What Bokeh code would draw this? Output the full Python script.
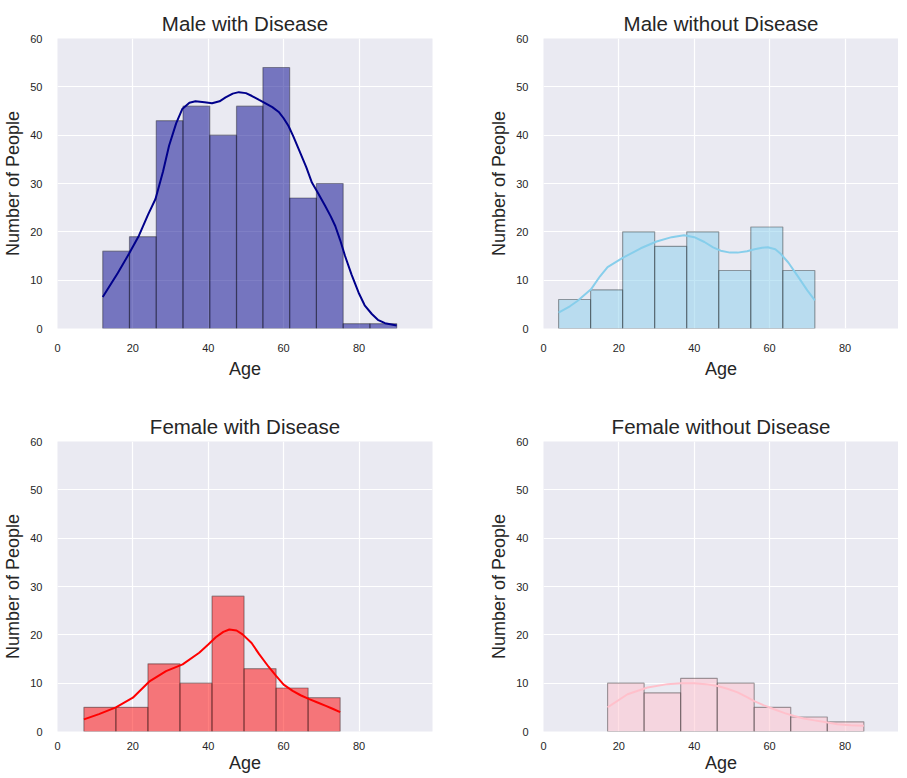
from bokeh.plotting import figure
from bokeh.layouts import column, row
from bokeh.models import Range1d, FixedTicker, Spacer
from bokeh.embed import file_html
from bokeh.resources import INLINE

# ---------------- data ----------------
md_title = "Male with Disease"
md_edges = [12.0, 19.1, 26.2, 33.3, 40.4, 47.5, 54.5, 61.6, 68.7, 75.8, 82.9, 90.0]
md_counts = [16, 19, 43, 46, 40, 46, 54, 27, 30, 1, 1]
md_kde_x = [12, 16, 19, 21.6, 24, 26, 28, 29.6, 31.5, 33.1, 35, 36.6, 39, 41, 43, 44.6, 46.5,
            48.1, 50, 51.6, 53.5, 55.2, 57, 58.7, 60, 61.3, 62.6, 64, 66, 67.5, 69, 71, 72.5,
            73.7, 75, 76.3, 78, 79.9, 81.5, 83.4, 85, 86.9, 90]
md_kde_y = [6.5, 11.5, 15.5, 19.2, 23.5, 26.8, 32.5, 37.8, 42.5, 45.4, 46.7, 47.0, 46.8, 46.6,
            47.0, 47.8, 48.6, 48.9, 48.7, 48.1, 47.3, 46.6, 45.8, 44.8, 43.5, 41.9, 39.7, 37.1,
            33.4, 30.2, 28.2, 25.4, 23.2, 21.2, 18.3, 15.0, 11.2, 7.4, 4.8, 3.0, 1.8, 1.1, 0.6]

mn_title = "Male without Disease"
mn_edges = [4.0, 12.5, 21.0, 29.5, 38.0, 46.5, 55.0, 63.5, 72.0]
mn_counts = [6, 8, 20, 17, 20, 12, 21, 12]
mn_kde_x = [4, 7, 9, 12.6, 15, 17, 21, 25.8, 30, 34, 37.3, 40, 42.7, 45, 47, 49.5, 51.5, 54,
            56, 58, 59.5, 61.5, 63, 65, 67.4, 70, 72]
mn_kde_y = [3.3, 4.6, 5.7, 8.1, 10.8, 12.7, 14.6, 16.6, 18.0, 18.9, 19.3, 18.9, 17.9, 16.8,
            16.1, 15.7, 15.7, 16.0, 16.4, 16.7, 16.8, 16.4, 15.4, 13.6, 10.9, 7.9, 5.8]

fd_title = "Female with Disease"
fd_edges = [7.0, 15.5, 24.0, 32.5, 41.0, 49.5, 58.0, 66.5, 75.0]
fd_counts = [5, 5, 14, 10, 28, 13, 9, 7]
fd_kde_x = [7, 11, 15.5, 20, 24.3, 28.8, 33.2, 37.6, 40, 42, 44, 45.6, 47.5, 49.1, 51.5, 53.5,
            56, 58, 60, 62.4, 64.5, 66.8, 69, 71.2, 73, 75]
fd_kde_y = [2.5, 3.6, 5.0, 7.0, 10.3, 12.5, 13.9, 16.3, 18.0, 19.5, 20.6, 21.1, 20.9, 20.1,
            18.3, 16.0, 13.4, 11.5, 9.7, 8.4, 7.5, 6.7, 6.0, 5.3, 4.7, 4.0]

fn_title = "Female without Disease"
fn_edges = [17.0, 26.7, 36.4, 46.1, 55.9, 65.6, 75.3, 85.0]
fn_counts = [10, 8, 11, 10, 5, 3, 2]
fn_kde_x = [17, 22.3, 27.6, 32.9, 36.5, 40, 43, 46.2, 49, 51.5, 54, 55.9, 58.5, 61.2, 64,
            66.5, 69, 71.9, 75, 78, 81.5, 85]
fn_kde_y = [5.0, 7.7, 9.1, 9.8, 10.0, 10.0, 9.8, 9.4, 8.8, 8.1, 7.1, 6.3, 5.4, 4.6, 3.8,
            3.2, 2.7, 2.3, 1.9, 1.5, 1.3, 1.2]

x_tick_values = [0, 20, 40, 60, 80]
y_tick_values = [0, 10, 20, 30, 40, 50, 60]
x_label = "Age"
y_label = "Number of People"

# ---------------- styling ----------------
FONT = "Liberation Sans"
TEXT = "#262626"
BG = "#EAEAF2"
PX_PER_UNIT = 375 / 99.5


def make_panel(title, edges, counts, kx, ky, color, frame_w,
               border_right, border_bottom, x_label_standoff, x_axis_label_standoff):
    p = figure(frame_width=frame_w, frame_height=290, output_backend="svg",
               toolbar_location=None, title=title,
               x_range=Range1d(0, frame_w / PX_PER_UNIT), y_range=Range1d(0, 60),
               min_border_left=50, min_border_right=border_right,
               min_border_top=0, min_border_bottom=border_bottom)
    p.background_fill_color = BG
    p.border_fill_color = "white"
    p.outline_line_color = None

    p.title.text_font = FONT
    p.title.text_font_size = "20.5px"
    p.title.text_font_style = "normal"
    p.title.text_color = TEXT
    p.title.align = "center"
    p.title.standoff = 8

    for ax in (p.xaxis, p.yaxis):
        ax.axis_line_color = None
        ax.major_tick_line_color = None
        ax.minor_tick_line_color = None
        ax.major_label_text_font = FONT
        ax.major_label_text_font_size = "11px"
        ax.major_label_text_color = TEXT
        ax.axis_label_text_font = FONT
        ax.axis_label_text_font_size = "18px"
        ax.axis_label_text_font_style = "normal"
        ax.axis_label_text_color = TEXT
    p.yaxis.major_label_standoff = 9
    p.yaxis.axis_label_standoff = 4
    p.xaxis.major_label_standoff = x_label_standoff
    p.xaxis.axis_label_standoff = x_axis_label_standoff
    p.xaxis.ticker = FixedTicker(ticks=x_tick_values)
    p.yaxis.ticker = FixedTicker(ticks=y_tick_values)
    p.xaxis.axis_label = x_label
    p.yaxis.axis_label = y_label

    p.xgrid.ticker = FixedTicker(ticks=x_tick_values)
    p.ygrid.ticker = FixedTicker(ticks=y_tick_values)
    for g in (p.xgrid, p.ygrid):
        g.grid_line_color = "white"
        g.grid_line_width = 1.2

    p.quad(left=edges[:-1], right=edges[1:], bottom=0, top=counts,
           fill_color=color, fill_alpha=0.5,
           line_color="black", line_alpha=0.35, line_width=1.2)
    p.line(kx, ky, line_color=color, line_width=2)
    return p


p1 = make_panel(md_title, md_edges, md_counts, md_kde_x, md_kde_y, "#00008B",
                375, 54, 80, 9, 4)
p2 = make_panel(mn_title, mn_edges, mn_counts, mn_kde_x, mn_kde_y, "#87CEEB",
                355, 0, 80, 9, 4)
p3 = make_panel(fd_title, fd_edges, fd_counts, fd_kde_x, fd_kde_y, "#FF0000",
                375, 54, 30, 4, 0)
p4 = make_panel(fn_title, fn_edges, fn_counts, fn_kde_x, fn_kde_y, "#FFC0CB",
                355, 0, 30, 4, 0)

layout = column(Spacer(height=5), row(p1, p2), row(p3, p4))

open("out.html", "w").write(file_html(layout, INLINE))
